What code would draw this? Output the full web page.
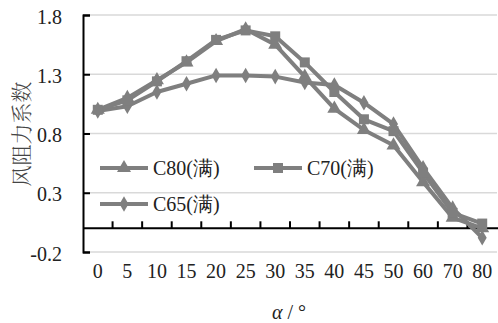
<!DOCTYPE html>
<html>
<head>
<meta charset="utf-8">
<script src="https://cdn.jsdelivr.net/npm/d3@7"></script>
<style>
  body { margin: 0; background: #fff; }
</style>
</head>
<body>
<div id="chart"></div>
<script>
const angles = ["0", "5", "10", "15", "20", "25", "30", "35", "40", "45", "50", "60", "70", "80"];
const c80 = [1.0, 1.1, 1.25, 1.4, 1.58, 1.68, 1.55, 1.28, 1.01, 0.83, 0.7, 0.39, 0.09, 0.0];
const c70 = [1.0, 1.08, 1.24, 1.41, 1.59, 1.67, 1.62, 1.4, 1.15, 0.92, 0.82, 0.47, 0.13, 0.04];
const c65 = [0.99, 1.03, 1.15, 1.22, 1.29, 1.29, 1.28, 1.23, 1.21, 1.06, 0.88, 0.51, 0.17, -0.08];
const yTicks = [-0.2, 0.3, 0.8, 1.3, 1.8];

const size = { width: 498, height: 323 };
const margin = { top: 15, bottom: 71, left: 83, right: 1 };
const grey = "#7f7f7f";
const serif = "'Liberation Serif', 'Times New Roman', Times, serif";

const svg = d3
  .select("#chart")
  .append("svg")
  .attr("width", size.width)
  .attr("height", size.height)
  .style("font-family", serif);

const x = d3
  .scaleBand()
  .domain(angles)
  .range([margin.left, size.width - margin.right])
  .padding(0);

const y = d3
  .scaleLinear()
  .domain([-0.2, 1.8])
  .range([size.height - margin.bottom, margin.top]);

// gridlines
svg
  .append("g")
  .selectAll("line")
  .data(yTicks)
  .join("line")
  .attr("x1", margin.left)
  .attr("x2", size.width - margin.right)
  .attr("y1", (d) => y(d))
  .attr("y2", (d) => y(d))
  .attr("stroke", "#d9d9d9")
  .attr("stroke-width", 1.5);

// y axis
svg
  .append("g")
  .attr("transform", `translate(${margin.left},0)`)
  .call(
    d3
      .axisLeft(y)
      .tickValues(yTicks)
      .tickSize(-7)
      .tickPadding(21)
      .tickFormat((d) => d.toFixed(1))
  )
  .attr("font-family", null)
  .attr("font-size", null)
  .call((g) => g.select(".domain").attr("stroke", "#000").attr("stroke-width", 2))
  .call((g) => g.selectAll(".tick line").attr("stroke", "#000").attr("stroke-width", 2))
  .call((g) =>
    g
      .selectAll("text")
      .style("font-family", serif)
      .style("font-size", "20px")
      .attr("fill", "#222")
      .attr("dy", "0.4em")
  );

// x axis at zero
const xAxis = svg.append("g").attr("transform", `translate(0,${y(0)})`);
xAxis
  .append("line")
  .attr("x1", margin.left)
  .attr("x2", size.width)
  .attr("stroke", "#000")
  .attr("stroke-width", 2);
xAxis
  .selectAll(".tk")
  .data(angles.slice(1))
  .join("line")
  .attr("class", "tk")
  .attr("x1", (d) => x(d))
  .attr("x2", (d) => x(d))
  .attr("y1", 0)
  .attr("y2", -7)
  .attr("stroke", "#000")
  .attr("stroke-width", 2);

svg
  .append("g")
  .selectAll("text")
  .data(angles)
  .join("text")
  .text((d) => d)
  .attr("x", (d) => x(d) + x.bandwidth() / 2)
  .attr("y", 278)
  .attr("text-anchor", "middle")
  .attr("fill", "#222")
  .style("font-family", serif)
  .style("font-size", "20px");

// axis titles
const xt = svg
  .append("text")
  .attr("x", 289)
  .attr("y", 319)
  .attr("text-anchor", "middle")
  .attr("fill", "#222")
  .style("font-family", serif)
  .style("font-size", "20px");
xt.append("tspan").text("α").style("font-style", "italic");
xt.append("tspan").text(" / °");

svg
  .append("text")
  .text("风阻力系数")
  .attr("transform", "translate(29,134) rotate(-90)")
  .attr("text-anchor", "middle")
  .attr("fill", "#444")
  .style("font-family", "'Noto Serif CJK SC', 'Noto Sans CJK SC', sans-serif")
  .style("font-size", "21px")
  .style("font-weight", 300);

const series = [
  { name: "C65(满)", values: c65, symbol: d3.symbolDiamond, size: 70 },
  { name: "C80(满)", values: c80, symbol: d3.symbolTriangle, size: 85 },
  { name: "C70(满)", values: c70, symbol: d3.symbolSquare, size: 100 },
];

const line = d3
  .line()
  .x((d, i) => x(angles[i]) + x.bandwidth() / 2)
  .y((d) => y(d));

series.forEach((s) => {
  svg
    .append("path")
    .datum(s.values)
    .attr("d", line)
    .attr("fill", "none")
    .attr("stroke", grey)
    .attr("stroke-width", 4)
    .attr("stroke-linejoin", "round");
  svg
    .append("g")
    .selectAll("path")
    .data(s.values)
    .join("path")
    .attr("d", d3.symbol().type(s.symbol).size(s.size))
    .attr("transform", (d, i) => `translate(${x(angles[i]) + x.bandwidth() / 2},${y(d)})`)
    .attr("fill", grey);
});

// legend
const legendPos = [
  { name: "C80(满)", symbol: d3.symbolTriangle, size: 85, lx: 100, ly: 168 },
  { name: "C70(满)", symbol: d3.symbolSquare, size: 100, lx: 254, ly: 168 },
  { name: "C65(满)", symbol: d3.symbolDiamond, size: 70, lx: 100, ly: 204 },
];
const legend = svg.append("g");
legendPos.forEach((l) => {
  const g = legend.append("g").attr("transform", `translate(${l.lx},${l.ly})`);
  g.append("line").attr("x1", 0).attr("x2", 48).attr("stroke", grey).attr("stroke-width", 4);
  g.append("path")
    .attr("d", d3.symbol().type(l.symbol).size(l.size))
    .attr("transform", "translate(24,0)")
    .attr("fill", grey);
  g.append("text")
    .text(l.name)
    .attr("x", 53)
    .attr("y", 7)
    .attr("fill", "#222")
    .style("font-family", serif)
    .style("font-size", "20px");
});
</script>
</body>
</html>
